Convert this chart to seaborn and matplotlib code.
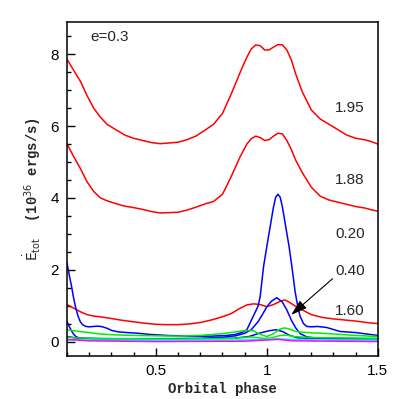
import matplotlib
matplotlib.use("Agg")
import matplotlib.pyplot as plt
import seaborn as sns
import numpy as np
from matplotlib.ticker import MultipleLocator

sns.set_style("ticks")
plt.rcParams['font.family'] = ['Liberation Sans', 'DejaVu Sans']

# curves (orbital phase, Edot in 1e36 ergs/s)
x_195 = [0.10, 0.13, 0.16, 0.19, 0.22, 0.25, 0.28, 0.32, 0.36, 0.40, 0.44, 0.48, 0.52, 0.56,
         0.60, 0.64, 0.68, 0.72, 0.76, 0.80, 0.84, 0.88, 0.91, 0.93, 0.95, 0.97, 0.99, 1.01,
         1.03, 1.05, 1.07, 1.09, 1.11, 1.13, 1.16, 1.20, 1.24, 1.28, 1.32, 1.36, 1.40, 1.44,
         1.47, 1.50]
y_195 = [7.86, 7.55, 7.25, 6.85, 6.5, 6.25, 6.05, 5.9, 5.75, 5.66, 5.6, 5.54, 5.51, 5.53,
         5.55, 5.62, 5.72, 5.88, 6.05, 6.35, 6.9, 7.5, 7.92, 8.15, 8.26, 8.24, 8.12, 8.12,
         8.2, 8.27, 8.26, 8.12, 7.85, 7.45, 6.95, 6.45, 6.2, 6.05, 5.9, 5.75, 5.66, 5.62,
         5.57, 5.5]

x_188 = x_195
y_188 = [5.5, 5.15, 4.82, 4.45, 4.18, 4.0, 3.92, 3.84, 3.77, 3.73, 3.68, 3.62, 3.58, 3.59,
         3.6, 3.66, 3.74, 3.83, 3.9, 4.1, 4.6, 5.15, 5.5, 5.65, 5.72, 5.68, 5.6, 5.62,
         5.72, 5.8, 5.78, 5.6, 5.35, 5.05, 4.7, 4.3, 4.05, 3.94, 3.88, 3.82, 3.76, 3.72,
         3.67, 3.63]

x_160 = [0.10, 0.13, 0.16, 0.19, 0.22, 0.26, 0.30, 0.35, 0.40, 0.45, 0.50, 0.55, 0.60, 0.65,
         0.70, 0.75, 0.80, 0.84, 0.88, 0.91, 0.94, 0.97, 1.00, 1.03, 1.06, 1.08, 1.10, 1.13,
         1.16, 1.20, 1.25, 1.30, 1.35, 1.40, 1.45, 1.50]
y_160 = [1.03, 0.93, 0.83, 0.75, 0.71, 0.68, 0.64, 0.59, 0.55, 0.51, 0.48, 0.47, 0.47, 0.49,
         0.53, 0.6, 0.69, 0.78, 0.93, 1.02, 1.05, 1.03, 0.97, 1.03, 1.12, 1.16, 1.1, 0.98,
         0.88, 0.75, 0.67, 0.63, 0.6, 0.57, 0.53, 0.5]

x_020 = [0.10, 0.11, 0.12, 0.13, 0.14, 0.15, 0.16, 0.17, 0.185, 0.20, 0.22, 0.24, 0.26, 0.28,
         0.30, 0.33, 0.37, 0.42, 0.47, 0.55, 0.65, 0.75, 0.82, 0.86, 0.89, 0.91, 0.94, 0.96,
         0.97, 0.985, 1.00, 1.015, 1.03, 1.04, 1.05, 1.06, 1.07, 1.085, 1.10, 1.113, 1.127,
         1.14, 1.15, 1.165, 1.18, 1.20, 1.23, 1.27, 1.33, 1.40, 1.45, 1.50]
y_020 = [2.19, 1.85, 1.55, 1.2, 0.92, 0.7, 0.55, 0.47, 0.42, 0.41, 0.42, 0.43, 0.41, 0.37,
         0.31, 0.27, 0.25, 0.23, 0.2, 0.17, 0.15, 0.15, 0.17, 0.2, 0.26, 0.33, 0.72, 0.98,
         1.25, 2.08, 2.65, 3.2, 3.75, 4.02, 4.1, 4.02, 3.75, 3.2, 2.65, 2.08, 1.4,
         0.95, 0.7, 0.5, 0.42, 0.41, 0.42, 0.39, 0.28, 0.25, 0.21, 0.17]

x_040 = [0.10, 0.11, 0.12, 0.13, 0.14, 0.15, 0.17, 0.25, 0.40, 0.55, 0.70, 0.80, 0.86, 0.90,
         0.93, 0.96, 0.98, 1.00, 1.02, 1.045, 1.07, 1.09, 1.11, 1.13, 1.15, 1.18, 1.22, 1.30,
         1.40, 1.50]
y_040 = [0.56, 0.42, 0.3, 0.2, 0.14, 0.11, 0.09, 0.08, 0.08, 0.08, 0.09, 0.12, 0.16, 0.23,
         0.33, 0.55, 0.75, 0.97, 1.12, 1.22, 1.1, 0.88, 0.6, 0.38, 0.22, 0.13, 0.1, 0.09,
         0.08, 0.08]

x_blue3 = [0.10, 0.15, 0.30, 0.60, 0.85, 0.92, 0.97, 1.01, 1.04, 1.07, 1.10, 1.14, 1.25, 1.50]
y_blue3 = [0.14, 0.09, 0.07, 0.07, 0.09, 0.14, 0.24, 0.3, 0.33, 0.28, 0.18, 0.1, 0.08, 0.07]

x_grn1 = [0.10, 0.13, 0.17, 0.20, 0.25, 0.30, 0.40, 0.50, 0.60, 0.70, 0.80, 0.86, 0.91, 0.94,
          0.97, 1.00, 1.03, 1.06, 1.08, 1.10, 1.13, 1.18, 1.25, 1.30, 1.40, 1.50]
y_grn1 = [0.33, 0.3, 0.27, 0.25, 0.21, 0.19, 0.17, 0.16, 0.15, 0.17, 0.22, 0.27, 0.31, 0.3,
          0.2, 0.14, 0.22, 0.35, 0.38, 0.35, 0.28, 0.25, 0.23, 0.21, 0.17, 0.14]

x_grn2 = [0.10, 0.15, 0.30, 0.60, 0.85, 0.93, 0.98, 1.02, 1.06, 1.09, 1.12, 1.20, 1.35, 1.50]
y_grn2 = [0.12, 0.1, 0.08, 0.07, 0.09, 0.13, 0.09, 0.1, 0.17, 0.18, 0.14, 0.11, 0.1, 0.09]

x_cyan = [0.10, 0.30, 0.80, 0.95, 1.05, 1.10, 1.30, 1.50]
y_cyan = [0.04, 0.04, 0.04, 0.05, 0.08, 0.06, 0.04, 0.04]

x_mag = [0.10, 0.20, 0.50, 0.90, 1.05, 1.12, 1.50]
y_mag = [0.06, 0.02, 0.0, 0.01, 0.06, 0.02, 0.0]

curve_labels = ['1.95', '1.88', '0.20', '0.40', '1.60']
label_y = [6.5, 4.5, 3.0, 1.97, 0.86]

fig = plt.figure(figsize=(3.99, 3.99), dpi=100)
ax = fig.add_axes([0.168, 0.108, 0.779, 0.837])

curves = [(x_195, y_195, 'red'), (x_188, y_188, 'red'), (x_160, y_160, 'red'),
          (x_020, y_020, 'blue'), (x_040, y_040, 'blue'), (x_blue3, y_blue3, 'blue'),
          (x_grn1, y_grn1, '#00ee00'), (x_grn2, y_grn2, '#00ee00'),
          (x_cyan, y_cyan, 'cyan'), (x_mag, y_mag, 'magenta')]
for xs, ys, c in curves:
    sns.lineplot(x=np.array(xs), y=np.array(ys), color=c, lw=1.1, ax=ax,
                 estimator=None, sort=False)

ax.set_xlim(0.1, 1.5)
ax.set_ylim(-0.4, 8.9)
ax.set_xticks([0.5, 1.0, 1.5])
ax.set_xticklabels(['0.5', '1', '1.5'])
ax.set_yticks([0, 2, 4, 6, 8])
ax.xaxis.set_minor_locator(MultipleLocator(0.1))
ax.yaxis.set_minor_locator(MultipleLocator(0.5))
ax.tick_params(which='both', direction='in', top=False, right=False, width=1, colors='k')
ax.tick_params(which='major', length=6, labelsize=11, pad=6)
ax.tick_params(which='minor', length=3)
for s in ax.spines.values():
    s.set_linewidth(1.1)
    s.set_color('k')

mono = {'family': 'Liberation Mono', 'weight': 'bold', 'size': 10}
ax.set_xlabel('Orbital phase', fontdict=mono, labelpad=3)
ax.set_ylabel(r'$\dot{\mathrm{E}}_{\mathrm{tot}}$  (10$^{36}$ ergs/s)', fontdict=mono, labelpad=5)

ax.text(0.204, 8.47, 'e=0.3', fontsize=11, va='center', ha='left')
for lab, yy in zip(curve_labels, label_y):
    ax.text(1.307, yy, lab, fontsize=11, va='center', ha='left')

ax.annotate('', xy=(1.10, 0.69), xytext=(1.305, 1.80),
            arrowprops=dict(arrowstyle='-|>,head_length=0.7,head_width=0.22',
                            color='k', lw=0.8, mutation_scale=14))

fig.savefig('out.png', dpi=100, facecolor='white')
